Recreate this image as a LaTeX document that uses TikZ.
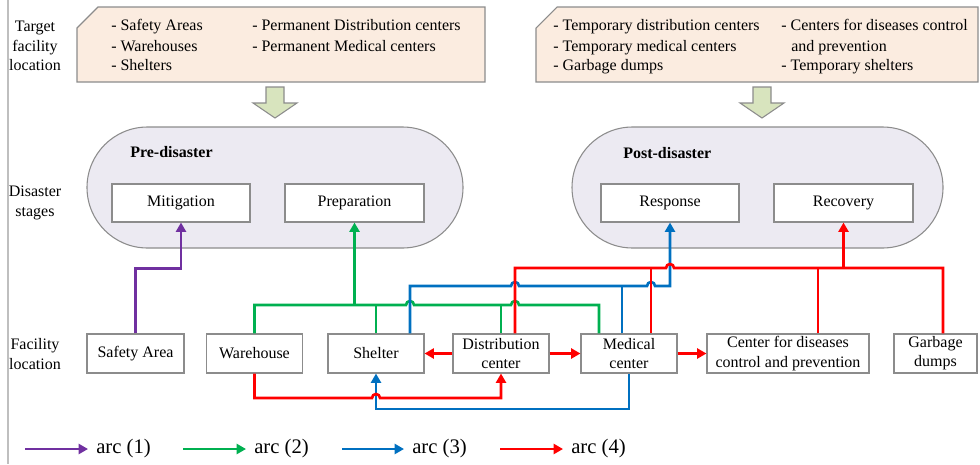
\documentclass[tikz,border=0pt]{standalone}
\usepackage{fontspec}
\setmainfont{Liberation Serif}
\usetikzlibrary{arrows.meta,shapes.misc,calc}
\definecolor{cpurple}{RGB}{112,48,160}
\definecolor{cgreen}{RGB}{0,176,80}
\definecolor{cblue}{RGB}{0,112,192}
\definecolor{cred}{RGB}{255,0,0}
\definecolor{bgray}{RGB}{140,140,140}
\definecolor{peach}{RGB}{251,236,224}
\definecolor{lav}{RGB}{236,234,242}
\definecolor{olive}{RGB}{216,228,190}
\newcommand\hump{arc[start angle=180,end angle=0,radius=3pt]}
\begin{document}
\begin{tikzpicture}[x=0.75pt,y=-0.75pt,
  font=\fontsize{12}{14.4}\selectfont,
  box/.style={draw=bgray,line width=0.8pt,fill=white,inner sep=0pt,align=center},
  sbox/.style={box,minimum height=28.5pt},
  fbox/.style={box,minimum height=29.25pt},
  stage/.style={draw=bgray,line width=0.8pt,fill=lav,rounded rectangle,minimum height=90.75pt,inner sep=0pt},
  shapeline/.style={draw=bgray,line width=0.8pt},
  item/.style={anchor=base west,inner sep=0pt},
  lab/.style={align=center,inner sep=0pt},
  link/.style={line width=2pt,line join=miter},
  tip/.style={-{Triangle[length=7pt,width=7.5pt]}},
  legend/.style={anchor=west,inner xsep=6pt,inner ysep=0pt,font=\fontsize{15.5}{18}\selectfont}
]
\useasboundingbox (0,0) rectangle (980,464);
% left guide line
\draw[gray!50,line width=0.8pt] (8,0) -- (8,464);
% left labels
\node[lab] (L1) at (35,46) {Target\\facility\\location};
\node[lab] (L2) at (35,203) {Disaster\\stages};
\node[lab] (L3) at (35,354) {Facility\\location};
% target facility boxes
\filldraw[shapeline,fill=peach] (77,28) -- (98,7) -- (485,7) -- (485,82) -- (77,82) -- cycle;
\filldraw[shapeline,fill=peach] (536,28) -- (557,7) -- (978,7) -- (978,82) -- (536,82) -- cycle;
\node[item] (a1) at (111,31) {- Safety Areas};
\node[item] (a2) at (111,51) {- Warehouses};
\node[item] (a3) at (111,70) {- Shelters};
\node[item] (a4) at (252,31) {- Permanent Distribution centers};
\node[item] (a5) at (252,51) {- Permanent Medical centers};
\node[item] (b1) at (553,31) {- Temporary distribution centers};
\node[item] (b2) at (553,51) {- Temporary medical centers};
\node[item] (b3) at (553,70) {- Garbage dumps};
\node[item] (b4) at (781,31) {- Centers for diseases control};
\node[item] (b5) at (791,51) {and prevention};
\node[item] (b6) at (781,70) {- Temporary shelters};
% block arrows
\filldraw[shapeline,fill=olive] (266,87) -- (284,87) -- (284,103) -- (297,103) -- (275,118) -- (253,103) -- (266,103) -- cycle;
\filldraw[shapeline,fill=olive] (753,87) -- (771,87) -- (771,103) -- (784,103) -- (762,118) -- (740,103) -- (753,103) -- cycle;
% stages
\node[stage,minimum width=282pt] (pre) at (275,187.5) {};
\node[stage,minimum width=278.25pt] (post) at (757.5,187.5) {};
\node[item,font=\fontsize{12}{14.4}\selectfont\bfseries] (pret) at (130,157) {Pre-disaster};
\node[item,font=\fontsize{12}{14.4}\selectfont\bfseries] (postt) at (623,158) {Post-disaster};
\node[sbox,minimum width=103.5pt] (mit) at (181,203) {Mitigation};
\node[sbox,minimum width=104.25pt] (prep) at (354.5,203) {Preparation};
\node[sbox,minimum width=103.5pt] (resp) at (670,203) {Response};
\node[sbox,minimum width=104.25pt] (rec) at (843.5,203) {Recovery};
% facilities
\node[fbox,minimum width=72.75pt] (sa) at (135.5,353.5) {Safety Area};
\node[fbox,minimum width=72pt] (wh) at (254.5,353.5) {Warehouse};
\node[fbox,minimum width=72pt] (sh) at (376,353.5) {Shelter};
\node[fbox,minimum width=72pt] (dc) at (501,353.5) {Distribution\\center};
\node[fbox,minimum width=72pt] (mc) at (629,353.5) {Medical\\center};
\node[fbox,minimum width=121.5pt] (cdc) at (788,353.5) {Center for diseases\\control and prevention};
\node[fbox,minimum width=62.25pt] (gd) at (935.5,353.5) {Garbage\\dumps};
% arc (1)
\draw[link,cpurple,tip] (sa.north) |- ($(mit.south)+(0,46)$) -- (mit.south);
% arc (2)
\draw[link,cgreen,tip] ($(prep.south)+(0,83)$) -- (prep.south);
\draw[link,cgreen] (wh.north) |- (406,305) \hump -- (511,305) \hump -- (599,305) -- ($(mc.north)+(-30,0)$);
\draw[link,cgreen] (sh.north) -- (376,305);
\draw[link,cgreen] (dc.north) -- (501,305);
% arc (3)
\draw[link,cblue,tip] ($(sh.north)+(34,0)$) -- (410,286) -- (511,286) \hump -- (647,286) \hump -- (670,286) -- (resp.south);
\draw[link,cblue] ($(mc.north)+(-7,0)$) -- (622,286);
\draw[link,cblue,tip] (mc.south) -- (629,409) -- (376,409) -- (sh.south);
% arc (4)
\draw[link,cred,tip] (wh.south) -- (254.5,398) -- (372,398) \hump -- (501,398) -- (dc.south);
\draw[link,cred,tip] (dc.west) -- (sh.east);
\draw[link,cred,tip] (dc.east) -- (mc.west);
\draw[link,cred,tip] (mc.east) -- (cdc.west);
\draw[link,cred] ($(dc.north)+(14,0)$) -- (515,268) -- (666,268) \hump -- (943,268) -- ($(gd.north)+(7.5,0)$);
\draw[link,cred] ($(mc.north)+(22,0)$) -- (651,268);
\draw[link,cred] ($(cdc.north)+(30,0)$) -- (818,268);
\draw[link,cred,tip] (843.5,268) -- (rec.south);
% legend
\coordinate (s1) at (25,449);
\coordinate (s2) at (183,449);
\coordinate (s3) at (342,449);
\coordinate (s4) at (500,449);
\node[legend] (l1) at (88,449) {arc (1)};
\node[legend] (l2) at (246,449) {arc (2)};
\node[legend] (l3) at (404,449) {arc (3)};
\node[legend] (l4) at (563,449) {arc (4)};
\draw[link,cpurple,tip] (s1) -- (l1.west);
\draw[link,cgreen,tip] (s2) -- (l2.west);
\draw[link,cblue,tip] (s3) -- (l3.west);
\draw[link,cred,tip] (s4) -- (l4.west);
\end{tikzpicture}
\end{document}
